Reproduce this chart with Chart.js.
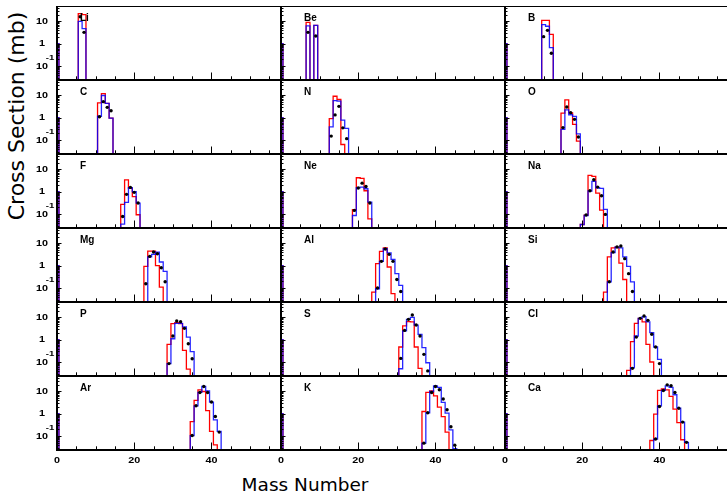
<!DOCTYPE html>
<html>
<head>
<meta charset="utf-8">
<script src="https://cdn.jsdelivr.net/npm/chart.js@4.4.1/dist/chart.umd.min.js"></script>
<style>
  html, body { margin: 0; padding: 0; background: #fff; }
  #wrap { position: relative; width: 727px; height: 493px; overflow: hidden; }
  #wrap canvas { position: absolute; }
  .title { position: absolute; font-family: "DejaVu Sans", sans-serif; white-space: nowrap; color: #000; }
  #ytitle { left: 17px; top: 116px; font-size: 22px; line-height: 22px; transform: translate(-50%, -50%) rotate(-90deg); }
  #xtitle { left: 305px; top: 485px; font-size: 18.5px; line-height: 18.5px; transform: translate(-50%, -50%); }
</style>
</head>
<body>
<div id="wrap">
  <div class="title" id="ytitle">Cross Section (mb)</div>
  <div class="title" id="xtitle">Mass Number</div>
</div>
<script>
// one panel per element, read left to right, top to bottom
const elements = ['Li', 'Be', 'B', 'C', 'N', 'O', 'F', 'Ne', 'Na', 'Mg', 'Al', 'Si', 'P', 'S', 'Cl', 'Ar', 'K', 'Ca'];
const firstMass = [6, 7, 10, 11, 13, 15, 17, 19, 20, 23, 24, 26, 29, 31, 32, 35, 37, 38];

// red model histogram (mb), one bin per mass number starting at firstMass
const redModel = [
  [22, 20],
  [9, 0, 6.6],
  [11, 11, 2.6],
  [4.6, 12, 4.4, 0.95],
  [0.91, 9.1, 6.5, 0.063, 0],
  [1.6, 6.3, 1.65, 0.5, 0.09],
  [0.27, 3.4, 1.4, 0.6, 0.093],
  [0.156, 4.2, 3.9, 1.1, 0.061],
  [0.034, 0.09, 5.4, 4.8, 0.86, 0.15, 0],
  [0.93, 4.5, 4.5, 1.0, 0.11, 0],
  [0.066, 1.23, 4.4, 6.2, 0.87, 0.056, 0, 0],
  [0.066, 2.45, 6.2, 6.8, 1.3, 0.24, 0, 0],
  [0.62, 5.2, 5.8, 5.2, 0.33, 0.048, 0],
  [0.47, 4.1, 6.4, 6.2, 0.47, 0.052, 0, 0],
  [0.042, 0.81, 5.4, 9, 6.2, 0.62, 0.1, 0, 0],
  [0.44, 3.9, 11.7, 9.8, 1.38, 0.16, 0.04, 0],
  [1.25, 8.9, 10.5, 6.3, 1.95, 0.74, 0.15, 0, 0],
  [0.063, 0.95, 10.9, 12.9, 11.7, 5.9, 1.6, 0.4, 0.068, 0]
];

// blue model histogram (mb)
const blueModel = [
  [10, 4.7],
  [6.2, 0, 6.6],
  [7.1, 6.0, 0.66],
  [1.16, 9.8, 4.4, 0.95],
  [0.39, 5.8, 5.5, 0.77, 0.33],
  [0.3, 2.25, 1.35, 1.15, 0.19],
  [0.035, 0.33, 1.5, 1.0, 0.31],
  [0.086, 1.5, 1.6, 1.35, 0.34],
  [0.034, 0.086, 1.07, 2.9, 1.5, 1.4, 0.16],
  [0, 2.45, 3.2, 4.0, 1.46, 0.56],
  [0, 0.093, 1.56, 5.8, 3.7, 1.9, 0.44, 0.13],
  [0, 0.19, 3.8, 6.8, 6.2, 2.45, 0.93, 0.19],
  [0.085, 1.1, 5.4, 5.4, 3.7, 1.3, 0.29],
  [0.05, 2.45, 8.1, 10, 4.5, 1.74, 0.44, 0.093],
  [0, 0.056, 1.46, 9, 10.7, 6.2, 2.06, 0.47, 0.13],
  [0.105, 2.25, 8.9, 16.5, 10.5, 3.3, 0.53, 0.16],
  [0.048, 1.1, 9.8, 17.6, 14.9, 3.2, 1.05, 0.19, 0.027],
  [0, 0.072, 2.25, 10.9, 17.6, 14.9, 7, 1.76, 0.42, 0.052]
];

// measured points (mb), null = no point
const measured = [
  [16, 3.2],
  [3.2, null, 2.2],
  [2.06, 3.95, 0.37],
  [1.1, 5.2, 2.9, 2.05],
  [0.15, 1.33, 3.2, 0.35, 0.115],
  [0.36, 3.0, 1.68, 0.84, 0.136],
  [0.078, 0.76, 1.55, 0.93, 0.31],
  [0.145, 1.45, 2.4, 1.7, 0.31],
  [null, 0.09, 1.1, 3.4, 1.6, 0.66, 0.096],
  [0.156, 2.6, 4.1, 3.4, 0.81, 0.19],
  [null, 0.1, 1.56, 5.6, 3.2, 1.56, 0.24, 0.07],
  [null, 0.19, 4.1, 6.8, 7.6, 2.06, 0.44, 0.07],
  [0.085, 1.46, 6.8, 6.4, 3.2, 0.66, 0.14],
  [0.145, 2.6, 8.1, 12.7, 4.5, 1.46, 0.22, 0.04],
  [null, 0.052, 1.3, 9, 11.5, 7.3, 1.74, 0.47, 0.085],
  [0.105, 2.25, 8.9, 16.5, 8.9, 3.3, 0.75, 0.15],
  [0.048, 1.1, 8.9, 16.5, 11.7, 4.5, 1.5, 0.26, 0.039],
  [null, 0.074, 2.1, 10.9, 19.5, 17.6, 8.9, 1.76, 0.42, 0.052]
];

// every panel also has a bin at mass 0 holding 1 mb in both models
const zeroBin = [1];

const xTickValues = [0, 20, 40];
const xTickLabels = ['0', '20', '40'];
const yTickValues = [10, 1, 0.1];
const yTickLabels = ['10', '1', '10'];
const yTickSup = ['', '', '-1'];

const X_MAX = 58, Y_MIN = 0.0237, Y_MAX = 48.4;
const FLOOR = 1e-4;
const colLeft = [57, 281, 505], rowTop = [6, 80, 154, 228, 302, 376];
const PW = 224, PH = 74;
const PAD = { left: 50, right: 4, top: 4, bottom: 24 };

function stepLine(a0, vals) {
  const pts = [{ x: a0 - 0.5, y: FLOOR }];
  vals.forEach((v, i) => {
    const y = v > 0 ? v : FLOOR;
    pts.push({ x: a0 + i - 0.5, y: y }, { x: a0 + i + 0.5, y: y });
  });
  pts.push({ x: a0 + vals.length - 0.5, y: FLOOR });
  return pts;
}

function histo(a0, vals) {
  return stepLine(0, zeroBin).concat([{ x: 0.5, y: null }], stepLine(a0, vals));
}

function stretchText(ctx, str, x, y, font, sx) {
  ctx.save();
  ctx.font = font;
  ctx.translate(x, y);
  ctx.scale(sx, 1);
  ctx.fillText(str, 0, 0);
  ctx.restore();
}

const panelFrame = {
  id: 'panelFrame',
  afterDraw(chart, args, opts) {
    const { ctx, chartArea: a } = chart;
    const xs = chart.scales.x, ys = chart.scales.y;
    ctx.save();
    ctx.strokeStyle = '#000';
    ctx.fillStyle = '#000';

    // inside ticks
    ctx.lineWidth = 1;
    ctx.beginPath();
    for (let m = 0; m < X_MAX; m += 5) {
      const px = Math.round(xs.getPixelForValue(m)) + 0.5;
      const len = m % 20 === 0 ? 7.5 : 3.7;
      ctx.moveTo(px, a.bottom);
      ctx.lineTo(px, a.bottom - len);
    }
    for (let k = -2; k <= 1; k++) {
      for (let m = 1; m <= 9; m++) {
        const v = m * Math.pow(10, k);
        if (v < Y_MIN || v > Y_MAX) continue;
        const py = Math.round(ys.getPixelForValue(v)) + 0.5;
        ctx.moveTo(a.left, py);
        ctx.lineTo(a.left + (m === 1 ? 4.5 : 2.5), py);
      }
    }
    ctx.stroke();

    // frame
    ctx.lineWidth = 2;
    ctx.beginPath();
    ctx.moveTo(a.left, a.top);
    ctx.lineTo(a.left, a.bottom);
    ctx.lineTo(a.right, a.bottom);
    ctx.stroke();
    ctx.lineWidth = 1;
    ctx.beginPath();
    ctx.moveTo(a.left, a.top + 0.5);
    ctx.lineTo(a.right - 0.5, a.top + 0.5);
    ctx.lineTo(a.right - 0.5, a.bottom);
    ctx.stroke();

    // element name
    ctx.font = 'bold 10px "Liberation Sans", Arial, sans-serif';
    ctx.textAlign = 'left';
    ctx.textBaseline = 'alphabetic';
    ctx.fillText(opts.name, a.left + 23, a.top + 15);

    const tickFont = 'bold 9px "Liberation Sans", Arial, sans-serif';
    ctx.textAlign = 'center';
    ctx.textBaseline = 'middle';
    if (opts.yLabels) {
      yTickValues.forEach((v, i) => {
        const py = ys.getPixelForValue(v);
        stretchText(ctx, yTickLabels[i], a.left - 15, py, tickFont, 1.2);
        if (yTickSup[i]) stretchText(ctx, yTickSup[i], a.left - 7, py - 8.5, 'bold 8px "Liberation Sans", Arial, sans-serif', 1.2);
      });
    }
    if (opts.xLabels) {
      xTickValues.forEach((v, i) => {
        stretchText(ctx, xTickLabels[i], xs.getPixelForValue(v), a.bottom + 10.5, tickFont, 1.2);
      });
    }
    ctx.restore();
  }
};

const wrap = document.getElementById('wrap');
elements.forEach((name, i) => {
  const col = i % 3, row = Math.floor(i / 3);
  const cv = document.createElement('canvas');
  cv.width = PW + PAD.left + PAD.right;
  cv.height = PH + PAD.top + PAD.bottom;
  cv.style.left = (colLeft[col] - PAD.left) + 'px';
  cv.style.top = (rowTop[row] - PAD.top) + 'px';
  wrap.appendChild(cv);

  const a0 = firstMass[i];
  const dots = [];
  measured[i].forEach((v, k) => { if (v !== null) dots.push({ x: a0 + k, y: v }); });

  new Chart(cv, {
    type: 'scatter',
    data: {
      datasets: [
        { data: dots, showLine: false, pointRadius: 1.7, pointBackgroundColor: '#000', pointBorderWidth: 0 },
        { data: histo(a0, blueModel[i]), showLine: true, pointRadius: 0, borderWidth: 1.3,
          borderColor: 'rgba(0,0,255,0.85)', borderJoinStyle: 'miter', fill: false },
        { data: histo(a0, redModel[i]), showLine: true, pointRadius: 0, borderWidth: 1.3,
          borderColor: 'rgba(255,0,0,1)', borderJoinStyle: 'miter', fill: false }
      ]
    },
    options: {
      responsive: false,
      animation: false,
      devicePixelRatio: 1,
      events: [],
      layout: { padding: PAD },
      plugins: {
        legend: { display: false },
        tooltip: { enabled: false },
        panelFrame: { name: name, yLabels: col === 0, xLabels: row === 5 }
      },
      scales: {
        x: { type: 'linear', min: 0, max: X_MAX, display: false },
        y: { type: 'logarithmic', min: Y_MIN, max: Y_MAX, display: false }
      }
    },
    plugins: [panelFrame]
  });
});
</script>
</body>
</html>
